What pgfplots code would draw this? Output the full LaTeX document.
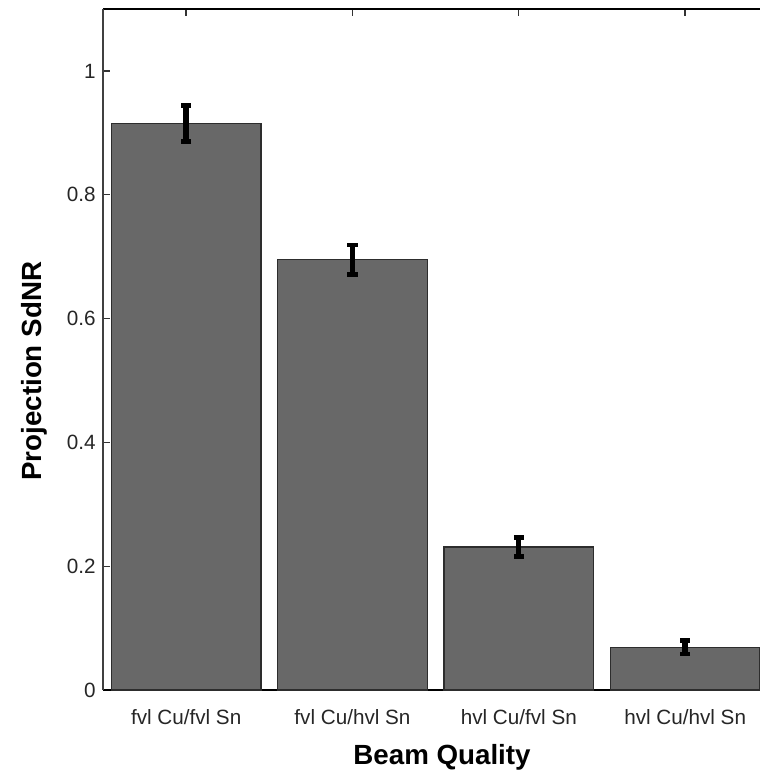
\documentclass[border=0pt]{standalone}
\usepackage{pgfplots}
\pgfplotsset{compat=1.18}
\usepackage{fontspec}
\setmainfont{Liberation Sans}
\definecolor{barfill}{RGB}{104,104,104}
\definecolor{baredge}{RGB}{45,45,45}
\begin{document}
\begin{tikzpicture}
\begin{axis}[
  name=ax,
  at={(0,0)}, anchor=south west,
  scale only axis,
  width=492.75pt, height=510.75pt,
  xmin=-0.5, xmax=3.45,
  ymin=0, ymax=1.1,
  axis x line*=box,
  axis y line*=left,
  separate axis lines,
  x axis line style={black, line width=2.2pt, -},
  y axis line style={black!75, line width=1.4pt, -},
  xtick=data,
  xticklabels={fvl Cu/fvl Sn, fvl Cu/hvl Sn, hvl Cu/fvl Sn, hvl Cu/hvl Sn},
  ytick={0,0.2,0.4,0.6,0.8,1},
  yticklabels={0,0.2,0.4,0.6,0.8,1},
  tick align=inside,
  major tick length=5pt,
  tick style={black!80, line width=1pt},
  tick label style={font=\fontsize{15.5}{18}\selectfont, text=black!85},
  /pgf/number format/assume math mode=true,
  xticklabel style={yshift=-11pt},
  yticklabel style={xshift=-2pt},
  xlabel={\textbf{Beam Quality}},
  ylabel={\textbf{Projection SdNR}},
  label style={font=\fontsize{20.8}{24}\selectfont},
  xlabel style={at={(axis description cs:0.516,-0.0985)}, anchor=center},
  ylabel style={at={(axis description cs:-0.105,0.468)}, anchor=center},
  clip=false,
]
\addplot[ybar, bar width=0.9, fill=barfill, draw=baredge, line width=1pt,
  error bars/.cd, y dir=both, y explicit,
  error bar style={black, line width=4pt},
  error mark options={black, rotate=90, mark size=3.8pt, line width=3.5pt}]
coordinates {
  (0,0.915) +- (0,0.029)
  (1,0.695) +- (0,0.024)
  (2,0.231) +- (0,0.015)
  (3,0.069) +- (0,0.011)
};
\end{axis}
\pgfresetboundingbox
\path[use as bounding box] ([xshift=-77.25pt,yshift=-63.75pt]ax.south west) rectangle ([yshift=6.75pt]ax.north east);
\end{tikzpicture}
\end{document}
